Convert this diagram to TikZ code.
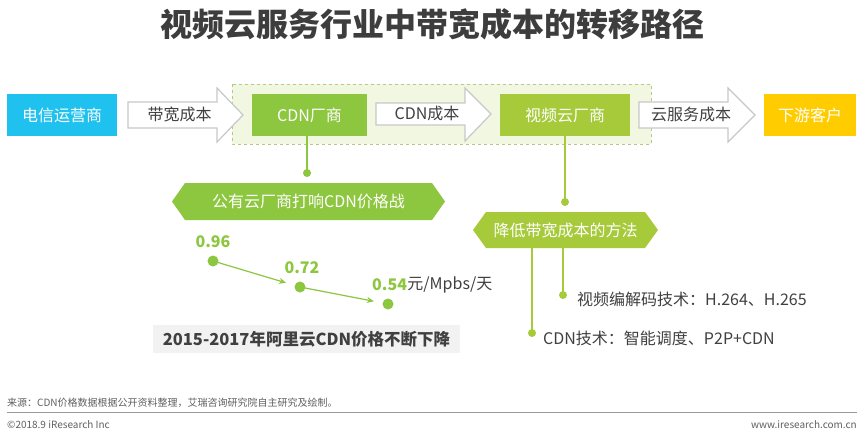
\documentclass[tikz,border=0pt]{standalone}
\usepackage{fontspec}
\setmainfont{Noto Sans CJK SC}
\usetikzlibrary{arrows.meta,calc}
\definecolor{cblue}{HTML}{1FC1EE}
\definecolor{cgreenA}{HTML}{8DC63F}
\definecolor{cgreenB}{HTML}{A6CA3A}
\definecolor{cyellow}{HTML}{FFCC00}
\definecolor{cregion}{HTML}{F2F7E1}
\definecolor{cregionline}{HTML}{B5C88A}
\definecolor{carrowline}{HTML}{C8C8C8}
\definecolor{cgraybox}{HTML}{F2F2F2}
\definecolor{ctext}{HTML}{404040}
\definecolor{cfoot}{HTML}{606060}
\begin{document}
\begin{tikzpicture}[x=1pt,y=-1pt,
  box/.style={minimum width=#1, minimum height=42pt, inner sep=0pt, text=white, font=\fontsize{16}{16}\selectfont},
  arrtext/.style={text=ctext, font=\fontsize{16}{16}\selectfont, inner sep=0pt},
  blockarrow/.style={draw=carrowline, fill=white, line width=1.2pt, line join=miter},
  dotA/.style={circle, fill=cgreenA, inner sep=0pt, minimum size=#1},
  dotB/.style={circle, fill=cgreenB, inner sep=0pt, minimum size=#1},
  num/.style={text=cgreenA, font=\fontsize{16}{16}\selectfont\bfseries, inner sep=0pt},
  lbl/.style={text=ctext, font=\fontsize{16}{16}\selectfont, inner sep=0pt, anchor=west},
  foot/.style={text=cfoot, font=\fontsize{10}{10}\selectfont, inner sep=0pt}
]
\useasboundingbox (0,0) rectangle (864,436);
\fill[white] (0,0) rectangle (864,436);

% title
\node[font=\fontsize{32}{32}\selectfont\bfseries, text=ctext!95!black, inner sep=0pt] (title) at (432,24) {视频云服务行业中带宽成本的转移路径};

% dashed region
\draw[cregionline, fill=cregion, dashed, line width=0.8pt] (232,84) rectangle (651,144);

% boxes
\node[box=110pt, fill=cblue] (tel) at (62,115) {电信运营商};
\node[box=115pt, fill=cgreenA] (cdn) at (309.5,115) {CDN厂商};
\node[box=130pt, fill=cgreenB] (vid) at (565,115) {视频云厂商};
\node[box=92pt, fill=cyellow] (down) at (810,115) {下游客户};

% block arrows
\draw[blockarrow] (128,102) -- (217,102) -- (217,88) -- (243,115) -- (217,142) -- (217,128) -- (128,128) -- cycle;
\node[arrtext] (a1) at (179.5,114) {带宽成本};
\draw[blockarrow] (376,103) -- (465,103) -- (465,88) -- (491,114) -- (465,141) -- (465,125) -- (376,125) -- cycle;
\node[arrtext] (a2) at (427,113) {CDN成本};
\draw[blockarrow] (639,102) -- (728,102) -- (728,88) -- (755,115) -- (728,142) -- (728,128) -- (639,128) -- cycle;
\node[arrtext] (a3) at (691,114) {云服务成本};

% hexagon 1
\coordinate (h1c) at (308.5,201.5);
\fill[cgreenA] (172,201.5) -- (185,183) -- (432,183) -- (445,201.5) -- (432,220) -- (185,220) -- cycle;
\node[text=white, font=\fontsize{16}{16}\selectfont, inner sep=0pt] (hex1) at (h1c) {公有云厂商打响CDN价格战};
\node[dotA=8pt] (k1) at (307,173) {};
\draw[cgreenA, line width=1.6pt] (cdn.south -| k1) -- (k1.center);

% hexagon 2
\coordinate (h2c) at (565.5,230);
\fill[cgreenB] (473,230) -- (486,212) -- (645,212) -- (658,230) -- (645,248) -- (486,248) -- cycle;
\node[text=white, font=\fontsize{16}{16}\selectfont, inner sep=0pt] (hex2) at (h2c) {降低带宽成本的方法};
\node[dotB=8pt] (k2) at (565,202) {};
\draw[cgreenB, line width=1.6pt] (vid.south -| k2) -- (k2.center);

% method branches
\coordinate (b1) at (532,248);
\coordinate (b2) at (563,248);
\node[dotB=8pt] (m1) at (532,333) {};
\node[dotB=8pt] (m2) at (563,295) {};
\draw[cgreenB, line width=1.6pt] (b1) -- (m1.center);
\draw[cgreenB, line width=1.6pt] (b2) -- (m2.center);
\node[lbl] (t2) at (577,299) {视频编解码技术：H.264、H.265};
\node[lbl] (t1) at (543,338) {CDN技术：智能调度、P2P+CDN};

% price trend
\node[dotA=11pt] (p1) at (213,261) {};
\node[dotA=11pt] (p2) at (300,287) {};
\node[dotA=11pt] (p3) at (388,304) {};
\draw[cgreenA, line width=1.2pt, -{Stealth[length=7pt,width=6pt]}] (p1.center) -- ($(p1.center)!0.84!(p2.center)$);
\draw[cgreenA, line width=1.2pt, -{Stealth[length=7pt,width=6pt]}] (p2.center) -- ($(p2.center)!0.84!(p3.center)$);
\node[num] (n1) at (213,242) {0.96};
\node[num] (n2) at (302,268) {0.72};
\node[num, anchor=west] (n3) at (372,285) {0.54};
\node[text=ctext, font=\fontsize{16}{16}\selectfont, inner sep=0pt, anchor=west] (unit) at (n3.east) {元/Mpbs/天};

% gray caption box
\fill[cgraybox] (153,325) rectangle (460,353);
\node[text=ctext, font=\fontsize{16.5}{16.5}\selectfont\bfseries, inner sep=0pt] (cap) at (306.5,339) {2015-2017年阿里云CDN价格不断下降};

% footer
\node[foot, anchor=west] (src) at (7,403) {来源：CDN价格数据根据公开资料整理，艾瑞咨询研究院自主研究及绘制。};
\draw[color=gray!80, line width=1pt] (7,412) -- (857,412);
\node[foot, anchor=west] (copy) at (7,425) {©2018.9 iResearch Inc};
\node[foot, anchor=east] (web) at (857,425) {www.iresearch.com.cn};
\end{tikzpicture}
\end{document}
